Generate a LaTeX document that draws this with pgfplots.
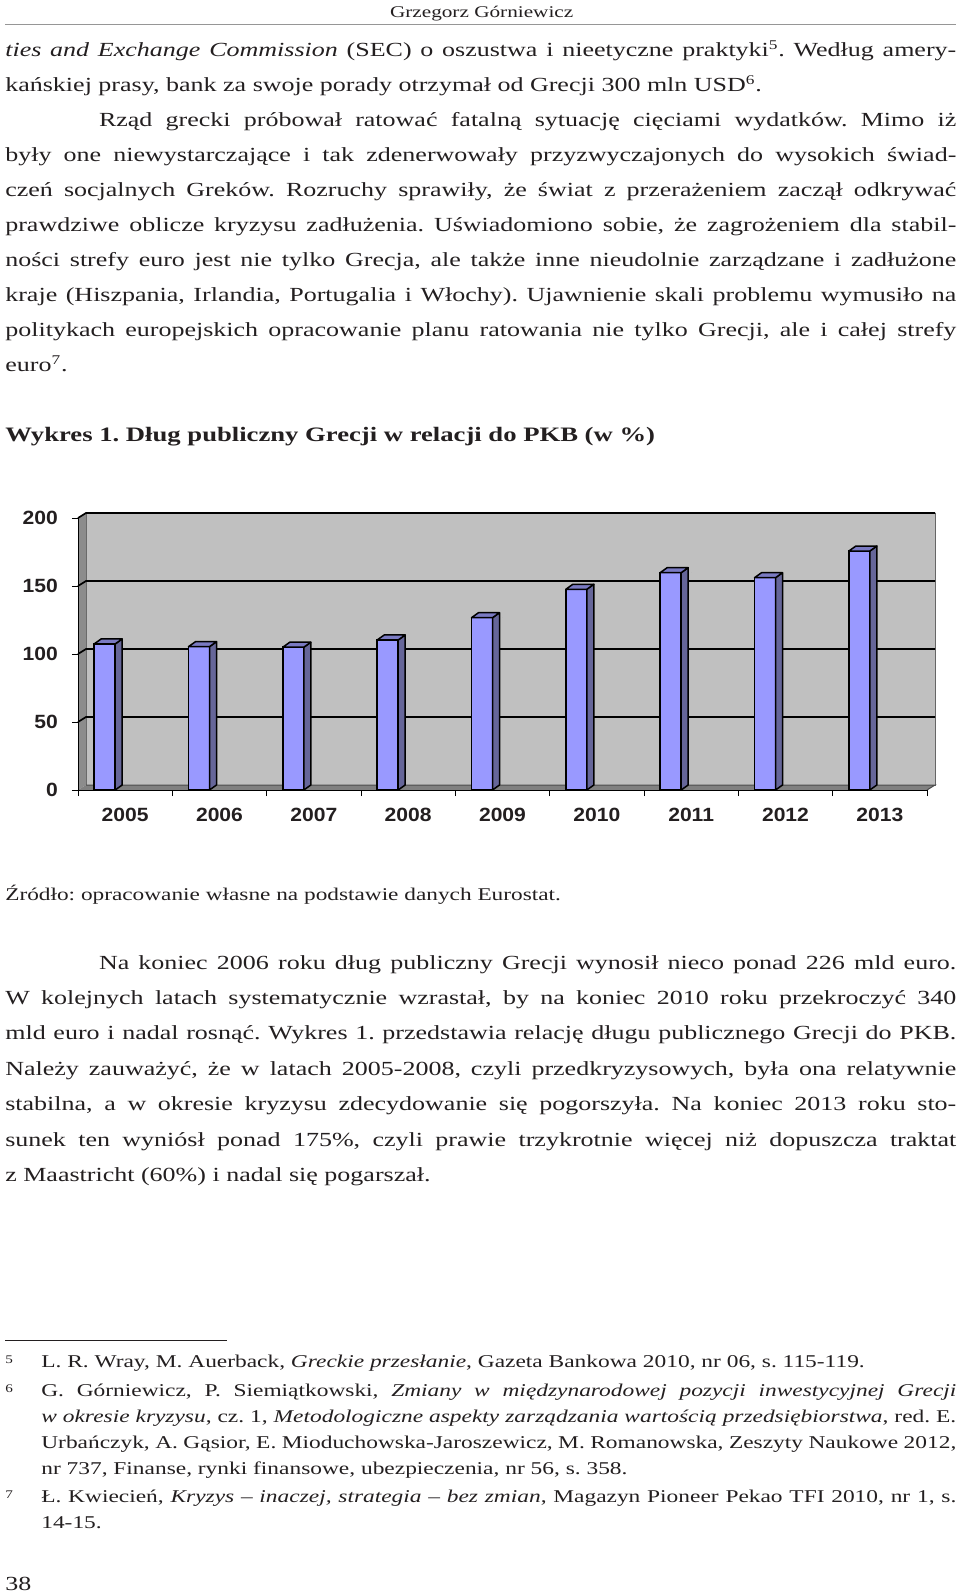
\documentclass[border=0pt]{standalone}
\usepackage{fontspec}
\setmainfont{Liberation Serif}[FakeStretch=1.3]
\setsansfont{Liberation Sans}[FakeStretch=1.1]
\usepackage{pgfplots}
\pgfplotsset{compat=1.18}
\usepackage{xcolor}
\definecolor{txt}{RGB}{35,31,32}
\definecolor{headgrey}{RGB}{150,150,150}
\definecolor{wall}{RGB}{192,192,192}
\definecolor{sidewall}{RGB}{140,140,140}
\definecolor{floorc}{RGB}{128,128,128}
\definecolor{barfront}{RGB}{153,153,255}
\definecolor{barside}{RGB}{102,102,153}
\definecolor{bartop}{RGB}{122,122,194}

% one justified line / one left line, baseline y in pt from the top
\newcommand{\jl}[3]{\node[anchor=base west,inner sep=0pt,text=txt] at (#1,-#2) {\body\makebox[\dimexpr573.6pt-#1\relax][s]{#3}};}
\newcommand{\lft}[3]{\node[anchor=base west,inner sep=0pt,text=txt] at (#1,-#2) {\body #3};}
\newcommand{\fj}[2]{\node[anchor=base west,inner sep=0pt,text=txt] at (24.6pt,-#1) {\fn\makebox[549pt][s]{#2}};}
\newcommand{\fnl}[2]{\node[anchor=base west,inner sep=0pt,text=txt] at (24.6pt,-#1) {\fn #2};}
\newcommand{\fnum}[2]{\node[anchor=base west,inner sep=0pt,text=txt] at (3pt,-#1) {\fontsize{7}{8}\selectfont #2};}
\newcommand{\body}{\fontsize{12}{14}\selectfont}
\newcommand{\fn}{\fontsize{10.8}{12}\selectfont}
\newcommand{\sx}[1]{\textsuperscript{#1}}

\begin{document}
\frenchspacing
\begin{tikzpicture}
\fill[white] (0,0) rectangle (576pt,-957pt);

% header
\node[anchor=base,inner sep=0pt,text=txt] at (289pt,-10.5pt) {\fontsize{9.8}{12}\selectfont Grzegorz Górniewicz};
\draw[headgrey,line width=0.9pt] (3pt,-14.6pt) -- (573.6pt,-14.6pt);

% first text block
\jl{3pt}{34pt}{\textit{ties and Exchange Commission} (SEC) o oszustwa i nieetyczne praktyki\sx{5}. Według amery-}
\lft{3pt}{55pt}{kańskiej prasy, bank za swoje porady otrzymał od Grecji 300 mln USD\sx{6}.}
\jl{59.2pt}{76pt}{Rząd grecki próbował ratować fatalną sytuację cięciami wydatków. Mimo iż}
\jl{3pt}{97pt}{były one niewystarczające i tak zdenerwowały przyzwyczajonych do wysokich świad-}
\jl{3pt}{118pt}{czeń socjalnych Greków. Rozruchy sprawiły, że świat z przerażeniem zaczął odkrywać}
\jl{3pt}{139pt}{prawdziwe oblicze kryzysu zadłużenia. Uświadomiono sobie, że zagrożeniem dla stabil-}
\jl{3pt}{160pt}{ności strefy euro jest nie tylko Grecja, ale także inne nieudolnie zarządzane i zadłużone}
\jl{3pt}{181pt}{kraje (Hiszpania, Irlandia, Portugalia i Włochy). Ujawnienie skali problemu wymusiło na}
\jl{3pt}{202pt}{politykach europejskich opracowanie planu ratowania nie tylko Grecji, ale i całej strefy}
\lft{3pt}{223pt}{euro\sx{7}.}

\lft{3pt}{264.8pt}{\fontsize{12.3}{14}\selectfont\textbf{Wykres 1. Dług publiczny Grecji w relacji do PKB (w \%)}}

% chart
\begin{axis}[
  at={(46.8pt,-474pt)}, anchor=south west,
  scale only axis, width=509.4pt, height=163.2pt,
  axis on top, clip=false,
  xmin=-0.5, xmax=8.5, ymin=0, ymax=200,
  axis x line*=bottom, axis y line*=left,
  axis line style={black,line width=0.6pt},
  tick align=outside, tick pos=left,
  tick style={black,line width=0.6pt},
  major tick length=3.6pt,
  ytick={0,50,...,200},
  xtick={-0.5,0.5,...,8.5}, xticklabels={},
  extra x ticks={0,1,2,3,4,5,6,7,8},
  extra x tick labels={2005,2006,2007,2008,2009,2010,2011,2012,2013},
  extra x tick style={major tick length=0pt},
  /pgf/number format/assume math mode=true,
  ticklabel style={font=\sffamily\bfseries\fontsize{11.5}{14}\selectfont, text=txt},
  yticklabel style={xshift=-5pt},
  xticklabel style={anchor=north, yshift=-7.5pt},
]
% walls, floor and gridlines of the 3-D frame
\fill[wall,draw=black!60,line width=0.6pt] ([shift={(4.8pt,3pt)}]axis cs:-0.5,0) rectangle ([shift={(4.8pt,3pt)}]axis cs:8.5,200);
\fill[sidewall] (axis cs:-0.5,0) -- (axis cs:-0.5,200) -- ([shift={(4.8pt,3pt)}]axis cs:-0.5,200) -- ([shift={(4.8pt,3pt)}]axis cs:-0.5,0) -- cycle;
\fill[floorc] (axis cs:-0.5,0) -- (axis cs:8.5,0) -- ([shift={(4.8pt,3pt)}]axis cs:8.5,0) -- ([shift={(4.8pt,3pt)}]axis cs:-0.5,0) -- cycle;
\pgfplotsinvokeforeach{50,100,150,200}{
  \draw[black,line width=1pt] (axis cs:-0.5,#1) -- ([shift={(4.8pt,3pt)}]axis cs:-0.5,#1) -- ([shift={(4.8pt,3pt)}]axis cs:8.5,#1);
}
\draw[black!70,line width=0.6pt] ([shift={(4.8pt,3pt)}]axis cs:-0.5,0) -- ([shift={(4.8pt,3pt)}]axis cs:8.5,0) -- (axis cs:8.5,0);

% front faces
\addplot[ybar, bar width=12.6pt, bar shift=-12.3pt, fill=barfront, draw=black, line width=0.9pt] coordinates {
  (0,107.4) (1,105.4) (2,105.0) (3,110.3) (4,126.7) (5,147.6) (6,159.8) (7,156.1) (8,175.7)
};
% side and top faces of the same bars
\addplot[scatter, only marks, mark=*, mark size=0pt, mark options={draw=none,fill=none},
  visualization depends on={rawy \as \rawy},
  scatter/@pre marker code/.code={%
    \pgfmathsetmacro\barh{-\rawy*0.816}%
    \pgfmathsetmacro\barhh{3-\rawy*0.816}%
    \filldraw[fill=barside,draw=black,line width=0.9pt,line join=round] (-6pt,0pt) -- (-1.8pt,3pt) -- (-1.8pt,\barhh pt) -- (-6pt,\barh pt) -- cycle;
    \filldraw[fill=bartop,draw=black,line width=0.9pt,line join=round] (-18.6pt,0pt) -- (-6pt,0pt) -- (-1.8pt,3pt) -- (-14.4pt,3pt) -- cycle;
  },
  scatter/@post marker code/.code={},
] coordinates {
  (0,107.4) (1,105.4) (2,105.0) (3,110.3) (4,126.7) (5,147.6) (6,159.8) (7,156.1) (8,175.7)
};
\end{axis}

\lft{3pt}{540pt}{\fontsize{10.75}{13}\selectfont Źródło: opracowanie własne na podstawie danych Eurostat.}

% second text block
\jl{59.2pt}{581.4pt}{Na koniec 2006 roku dług publiczny Grecji wynosił nieco ponad 226 mld euro.}
\jl{3pt}{602.6pt}{W kolejnych latach systematycznie wzrastał, by na koniec 2010 roku przekroczyć 340}
\jl{3pt}{623.9pt}{mld euro i nadal rosnąć. Wykres 1. przedstawia relację długu publicznego Grecji do PKB.}
\jl{3pt}{645.1pt}{Należy zauważyć, że w latach 2005-2008, czyli przedkryzysowych, była ona relatywnie}
\jl{3pt}{666.4pt}{stabilna, a w okresie kryzysu zdecydowanie się pogorszyła. Na koniec 2013 roku sto-}
\jl{3pt}{687.6pt}{sunek ten wyniósł ponad 175\%, czyli prawie trzykrotnie więcej niż dopuszcza traktat}
\lft{3pt}{708.8pt}{z Maastricht (60\%) i nadal się pogarszał.}

% footnotes
\draw[txt,line width=0.5pt] (3pt,-804.4pt) -- (136pt,-804.4pt);
\fnum{818pt}{5}
\fnl{820.2pt}{L. R. Wray, M. Auerback, \textit{Greckie przesłanie}, Gazeta Bankowa 2010, nr 06, s. 115-119.}
\fnum{835.4pt}{6}
\fj{837.6pt}{G. Górniewicz, P. Siemiątkowski, \textit{Zmiany w międzynarodowej pozycji inwestycyjnej Grecji}}
\fj{853.2pt}{\textit{w okresie kryzysu}, cz. 1, \textit{Metodologiczne aspekty zarządzania wartością przedsiębiorstwa}, red. E.}
\fj{868.8pt}{Urbańczyk, A. Gąsior, E. Mioduchowska-Jaroszewicz, M. Romanowska, Zeszyty Naukowe 2012,}
\fnl{884.4pt}{nr 737, Finanse, rynki finansowe, ubezpieczenia, nr 56, s. 358.}
\fnum{899pt}{7}
\fj{901.2pt}{Ł. Kwiecień, \textit{Kryzys -- inaczej, strategia -- bez zmian}, Magazyn Pioneer Pekao TFI 2010, nr 1, s.}
\fnl{916.8pt}{14-15.}

\node[anchor=base west,inner sep=0pt,text=txt] at (3pt,-954pt) {\fontsize{12}{14}\selectfont 38};

\pgfresetboundingbox
\path (0,0) rectangle (576pt,-957pt);
\end{tikzpicture}
\end{document}
